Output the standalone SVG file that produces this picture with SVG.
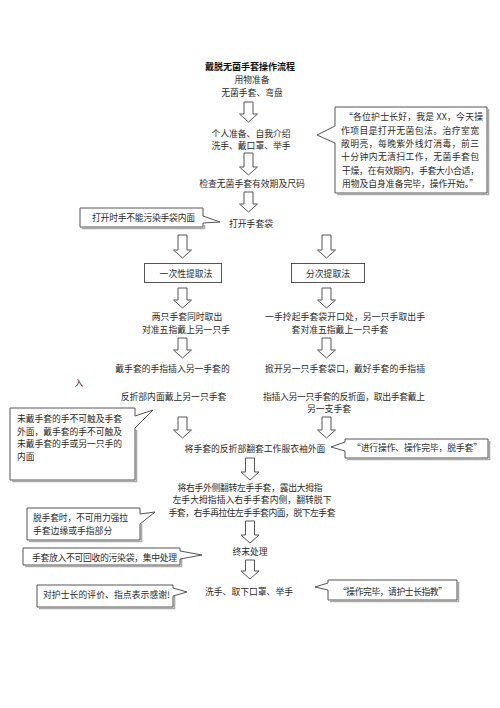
<svg xmlns="http://www.w3.org/2000/svg" width="500" height="708" viewBox="0 0 500 708">
<style>
.t{font-family:"Noto Sans CJK SC","Noto Sans",sans-serif;font-size:8.8px;fill:#2a2a2a}
.c{text-anchor:middle}
.b{font-weight:bold;font-size:9px;fill:#111}
.arr{fill:#fff;stroke:#555;stroke-width:1}
.co{fill:#fff;stroke:#555;stroke-width:1}
.sh{fill:none;stroke:#aaa;stroke-width:1.6}
.bx{fill:#fff;stroke:#555;stroke-width:1}
</style>
<rect width="500" height="708" fill="#fff"/>

<g id="connectors">
<path class="arr" d="M244,102 H253 V114 H257.5 L248.5,122 L239.5,114 H244 Z"/>
<path class="arr" d="M244,153 H253 V167 H257.5 L248.5,175 L239.5,167 H244 Z"/>
<path class="arr" d="M244,192 H253 V204 H257.5 L248.5,212 L239.5,204 H244 Z"/>
<path class="arr" d="M178,235 H187 V250 H191.5 L182.5,258 L173.5,250 H178 Z"/>
<path class="arr" d="M322,235 H331 V250 H335.5 L326.5,258 L317.5,250 H322 Z"/>
<path class="arr" d="M178,288 H187 V300 H191.5 L182.5,308 L173.5,300 H178 Z"/>
<path class="arr" d="M322,288 H331 V300 H335.5 L326.5,308 L317.5,300 H322 Z"/>
<path class="arr" d="M178,338 H187 V350 H191.5 L182.5,358 L173.5,350 H178 Z"/>
<path class="arr" d="M322,338 H331 V350 H335.5 L326.5,358 L317.5,350 H322 Z"/>
<path class="arr" d="M178,417 H187 V430 H191.5 L182.5,438 L173.5,430 H178 Z"/>
<path class="arr" d="M322,417 H331 V430 H335.5 L326.5,438 L317.5,430 H322 Z"/>
<path class="arr" d="M245.5,458 H254.5 V472 H259 L250,480 L241,472 H245.5 Z"/>
<path class="arr" d="M245.5,521 H254.5 V535 H259 L250,543 L241,535 H245.5 Z"/>
<path class="arr" d="M245.5,560 H254.5 V571 H259 L250,579 L241,571 H245.5 Z"/>
</g>

<g id="title"><text class="t c b" x="250" y="70.3">戴脱无菌手套操作流程</text></g>
<g id="n-prep">
<text class="t c" x="252" y="82.6">用物准备</text>
<text class="t c" x="252" y="96.4">无菌手套、弯盘</text>
</g>
<g id="n-self">
<text class="t c" x="251" y="136.6">个人准备、自我介绍</text>
<text class="t c" x="251" y="148.8">洗手、戴口罩、举手</text>
</g>
<g id="n-check"><text class="t c" x="252" y="186.5">检查无菌手套有效期及尺码</text></g>
<g id="n-open"><text class="t c" x="251" y="226.5">打开手套袋</text></g>

<g id="n-once">
<rect class="bx" x="144.5" y="263.5" width="77" height="19"/>
<text class="t c" x="186" y="277">一次性提取法</text>
</g>
<g id="n-split">
<rect class="bx" x="291.5" y="263.5" width="73" height="19"/>
<text class="t c" x="328" y="277">分次提取法</text>
</g>

<g id="n-left1">
<text class="t c" x="187" y="320">两只手套同时取出</text>
<text class="t c" x="186" y="332.5">对准五指戴上另一只手</text>
</g>
<g id="n-left2">
<text class="t c" x="172.5" y="372.3">戴手套的手指插入另一手套的</text>
<text class="t c" x="79" y="386.3">入</text>
<text class="t c" x="173.5" y="400">反折部内面戴上另一只手套</text>
</g>
<g id="n-right1">
<text class="t c" x="345" y="320" textLength="160">一手拎起手套袋开口处，另一只手取出手</text>
<text class="t c" x="340" y="332.5">套对准五指戴上一只手套</text>
</g>
<g id="n-right2">
<text class="t c" x="345" y="372.3" textLength="160">掀开另一只手套袋口，戴好手套的手指插</text>
<text class="t c" x="344" y="400" textLength="162">指插入另一只手套的反折面，取出手套戴上</text>
<text class="t c" x="329" y="412.3">另一支手套</text>
</g>
<g id="n-fold"><text class="t c" x="255" y="451.5">将手套的反折部翻套工作服衣袖外面</text></g>
<g id="n-remove">
<text class="t c" x="250" y="491" textLength="145">将右手外侧翻转左手手套，露出大拇指</text>
<text class="t c" x="252" y="503.2" textLength="159">左手大拇指插入右手手套内侧，翻转脱下</text>
<text class="t c" x="252" y="516.4" textLength="167">手套，右手再拉住左手手套内面，脱下左手套</text>
</g>
<g id="n-final"><text class="t c" x="250" y="555.3">终末处理</text></g>
<g id="n-wash"><text class="t c" x="249" y="595.3">洗手、取下口罩、举手</text></g>

<g id="cb-intro">
<path class="sh" d="M488.5,109 V194.5 H337"/>
<path class="co" d="M335,107 H487 V193 H335 V143 L317,135 L335,126 Z"/>
<text class="t" x="344" y="120.3" textLength="139">“各位护士长好，我是 XX，今天操</text>
<text class="t" x="341" y="133.6" textLength="138">作项目是打开无菌包法。治疗室宽</text>
<text class="t" x="341" y="146.9" textLength="138">敞明亮，每晚紫外线灯消毒，前三</text>
<text class="t" x="341" y="160.2" textLength="138">十分钟内无清扫工作，无菌手套包</text>
<text class="t" x="342" y="173.5" textLength="137">干燥，在有效期内，手套大小合适，</text>
<text class="t" x="342" y="186.8" textLength="136">用物及自身准备完毕，操作开始。”</text>
</g>

<g id="cb-open">
<path class="sh" d="M204.5,225 V228.5 H82"/>
<path class="co" d="M80,208 H203 V216 L220,222 L203,223 V227 H80 Z"/>
<text class="t" x="92" y="221.3" textLength="103">打开时手不能污染手袋内面</text>
</g>

<g id="cb-touch">
<path class="sh" d="M136.5,430 V481.5 H12"/>
<path class="co" d="M10,408 H135 V416 L153,410 L135,428 V480 H10 Z"/>
<text class="t" x="17" y="422.3" textLength="105">未戴手套的手不可触及手套</text>
<text class="t" x="17" y="434.8" textLength="105">外面，戴手套的手不可触及</text>
<text class="t" x="17" y="447.3" textLength="105">未戴手套的手或另一只手的</text>
<text class="t" x="17" y="459.8">内面</text>
</g>

<g id="cb-operate">
<path class="sh" d="M489.5,441 V459.5 H347"/>
<path class="co" d="M345,439 H488 V458 H345 V451 L331,447 L345,442 Z"/>
<text class="t" x="352" y="451.3" textLength="130">“进行操作、操作完毕，脱手套”</text>
</g>

<g id="cb-pull">
<path class="sh" d="M141.5,524 V541.5 H29"/>
<path class="co" d="M27,508 H140 V514 L155,512 L140,524 V540 H27 Z"/>
<text class="t" x="33" y="521.3" textLength="95">脱手套时，不可用力强拉</text>
<text class="t" x="33" y="533.5">手套边缘或手指部分</text>
</g>

<g id="cb-waste">
<path class="sh" d="M181.5,559 V566.5 H25"/>
<path class="co" d="M23,548 H180 V551 L202,555 L180,559 V565 H23 Z"/>
<text class="t" x="32" y="561.3" textLength="145">手套放入不可回收的污染袋，集中处理</text>
</g>

<g id="cb-thanks">
<path class="sh" d="M174.5,596 V608.5 H39"/>
<path class="co" d="M37,585 H173 V588 L187,592 L173,596 V607 H37 Z"/>
<text class="t" x="43" y="598.3" textLength="127">对护士长的评价、指点表示感谢!</text>
</g>

<g id="cb-finish">
<path class="sh" d="M458.5,582 V601.5 H330"/>
<path class="co" d="M328,580 H457 V600 H328 V590 L315,587 L328,583 Z"/>
<text class="t" x="338" y="595.3" textLength="109">“操作完毕，请护士长指教”</text>
</g>
</svg>
